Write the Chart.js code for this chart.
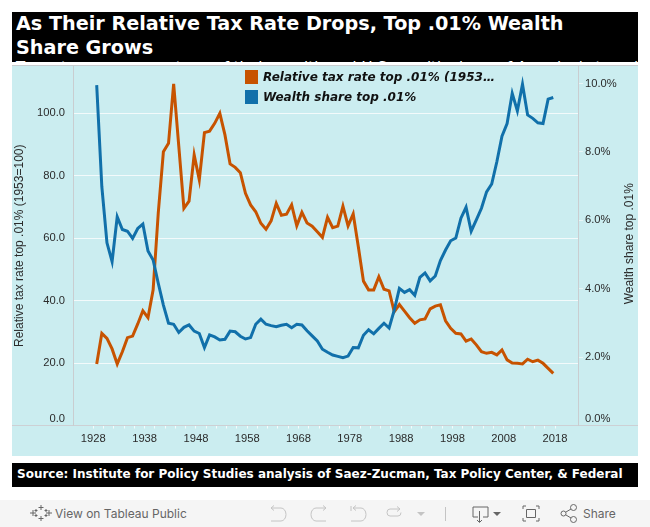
<!DOCTYPE html>
<html><head><meta charset="utf-8">
<script src="https://cdn.jsdelivr.net/npm/chart.js@4/dist/chart.umd.min.js"></script>
<style>
html,body{margin:0;padding:0;background:#fff;width:650px;height:527px;overflow:hidden}
.abs{position:absolute}
#head{left:12px;top:12px;width:626px;height:50px;background:#000;color:#fff;overflow:hidden;font-family:"DejaVu Sans";font-weight:bold}
#title{position:absolute;left:4px;top:0;width:600px;font-size:19.2px;line-height:24px}
#sub{position:absolute;left:4px;top:47px;white-space:nowrap;font-size:15px;font-weight:normal}
#panel{left:12px;top:65px;width:626px;height:391px;background:#cbedf0;border-top:1px solid #c9cdd0;box-sizing:border-box}
#axisline{left:12px;top:425px;width:626px;height:1px;background:#cdd0d4}
#chartbox{left:12px;top:66px;width:626px;height:390px}
.sw{position:absolute;width:13px;height:14px;left:245px}
.lg{position:absolute;left:263px;font:italic bold 12px "DejaVu Sans";color:#111;white-space:nowrap}
#source{left:12px;top:463px;width:626px;height:24px;background:#000;color:#fff;font:bold 12px/23px "DejaVu Sans";white-space:nowrap;overflow:hidden}
#source span{margin-left:5px}
#bar{left:0;top:500px;width:650px;height:27px;background:#f5f5f5}
#view{left:55px;top:506px;font:12px/15px Inter;color:#666}
#share{left:583px;top:506px;font:12px/15px Inter;color:#666}
svg.ic{position:absolute;left:0;top:0}
</style></head><body>
<div class="abs" id="head"><div id="title">As Their Relative Tax Rate Drops, Top .01% Wealth Share Grows</div><div id="sub">Tax rates as a percentage of their wealth and U.S. wealth share of America's top elite</div></div>
<div class="abs" id="panel"></div>
<div class="abs" id="axisline"></div>
<div class="abs" id="chartbox"><canvas id="c" width="626" height="390"></canvas></div>
<div class="sw" style="top:70px;background:#c75300"></div><div class="lg" style="top:70px">Relative tax rate top .01% (1953…</div>
<div class="sw" style="top:90px;background:#1170aa"></div><div class="lg" style="top:90px">Wealth share top .01%</div>
<div class="abs" id="source"><span>Source: Institute for Policy Studies analysis of Saez-Zucman, Tax Policy Center, &amp; Federal</span></div>
<div class="abs" id="bar"></div>
<div class="abs" id="view">View on Tableau Public</div>
<div class="abs" id="share">Share</div>
<svg class="ic" width="650" height="527" fill="none" stroke="#c4c4c4" stroke-width="1">
 <g stroke="#666"><path d="M41 505v5M38.500 507.500h5M41 516v5M38.500 518.500h5M33 510v6M30 513h6M49 510v6M46 513h6M36 509v3M34.500 510.500h3M46 509v3M44.500 510.500h3M36 514v3M34.500 515.500h3M46 514v3M44.500 515.500h3"/></g>
 <path d="M271 508h10a5 6.500 0 0 1 0 13h-10M274 505.500l-3 2.500 3 2.500"/>
 <path d="M326 508h-10a5 6.500 0 0 0 0 13h10M323 505.500l3 2.500-3 2.500"/>
 <path d="M351 506v5M353 508h8a5 6.500 0 0 1 0 13h-10M356 505.500l-3 2.500 3 2.500"/>
 <path d="M400 509h-10a3 3.500 0 0 0 0 7h8a3 3.500 0 0 0 3-3.500M397 506.500l3 2.500-3 2.500"/>
 <path d="M417 512h8l-4 4z" fill="#c4c4c4" stroke="none"/>
 <path d="M445.500 507v14"/>
 <g stroke="#666"><path d="M473 507h15v10h-5M478 517h-5v-10M479.500 511v11M477 520l2.500 2.500 2.500-2.500"/><path d="M493 512h8l-4 4z" fill="#666" stroke="none"/>
 <path d="M523 509v-3h3M536 506h3v3M539 518v3h-3M526 521h-3v-3M526.500 509.500h9v8h-9z"/>
 <circle cx="563.500" cy="513.500" r="2.500"/><circle cx="573.500" cy="507.500" r="3"/><circle cx="573.500" cy="519.500" r="3"/><path d="M566 512l5-3M566 515l5 3"/></g>
</svg>
<script>
// Year labels on the axis, and the two series (first point = 1928).
const firstYear = 1928;
const tickStep = 2;
const lastTickYear = 2018;
const taxRate = [19.7,29.5,27.9,24.5,19.7,23.6,28.1,28.6,32.5,36.7,34.5,43.4,68.0,87.6,90.3,109.3,89.4,69.5,71.8,86.6,78.6,93.7,94.2,96.7,99.9,93.0,83.7,82.6,80.9,74.3,70.6,68.4,64.7,62.8,65.5,71.1,67.3,67.6,70.6,63.9,68.2,64.8,63.8,62.0,60.2,66.6,63.3,63.8,70.2,63.9,67.7,57.2,46.2,43.4,43.4,47.6,43.6,43.1,36.4,38.7,36.6,34.5,32.7,33.8,34.1,37.3,38.2,38.6,33.5,31.1,29.5,29.3,27.0,27.7,25.8,23.6,23.1,23.4,22.6,24.2,21.0,20.0,19.9,19.7,21.2,20.4,20.9,19.9,18.3,16.7];
const wealthShare = [9.95,6.98,5.34,4.79,6.10,5.73,5.68,5.47,5.76,5.89,5.10,4.84,4.16,3.52,2.99,2.96,2.72,2.87,2.94,2.76,2.69,2.28,2.65,2.59,2.50,2.52,2.76,2.74,2.61,2.53,2.57,2.96,3.11,2.96,2.92,2.89,2.93,2.96,2.86,2.96,2.94,2.77,2.62,2.47,2.23,2.14,2.06,2.02,1.98,2.03,2.28,2.27,2.64,2.80,2.68,2.84,2.99,2.85,3.37,4.01,3.89,3.97,3.81,4.33,4.46,4.23,4.37,4.82,5.13,5.40,5.48,6.06,6.38,5.68,6.01,6.35,6.83,7.06,7.71,8.46,8.83,9.71,9.20,9.98,9.08,8.98,8.85,8.83,9.54,9.59];
const leftTicks = [0,20,40,60,80,100];
const rightTicks = [0,2,4,6,8,10];
const leftTitle = 'Relative tax rate top .01% (1953=100)';
const rightTitle = 'Wealth share top .01%';

const years = taxRate.map((_,i)=>firstYear+i);
const tickShift = 0.66;
const tickYears = []; for(let y=firstYear;y<=lastTickYear;y+=tickStep) tickYears.push(y);
const txt = '#2b2b2b';
const font = {family:'"Liberation Sans"',size:11.2};
const noPad = s => { s.paddingTop=0; s.paddingBottom=0; s.paddingLeft=0; s.paddingRight=0; };

const extras = {id:'extras',afterDraw(ch){
  const c=ch.ctx,a=ch.chartArea,yl=ch.scales.y,yr=ch.scales.y2;
  c.save();c.fillStyle=txt;c.font='11.2px "Liberation Sans"';
  c.textBaseline='middle';
  c.textAlign='right';c.fillText('0.0',a.left-8,yl.getPixelForValue(0)-7);
  c.textAlign='left';c.fillText('0.0%',a.right+7,yr.getPixelForValue(0)-7);
  c.translate(618,(a.top+a.bottom)/2-2);c.rotate(-Math.PI/2);
  c.textAlign='center';c.font='12px "Liberation Sans"';c.fillText(rightTitle,0,0);
  c.restore();
}};

new Chart(document.getElementById('c'),{
  type:'line',
  data:{datasets:[
    {label:'Wealth share top .01%',data:years.map((x,i)=>({x,y:wealthShare[i]})),yAxisID:'y2',borderColor:'#1170aa',borderWidth:3,pointRadius:0,tension:0,order:1,borderJoinStyle:'miter'},
    {label:'Relative tax rate top .01% (1953=100)',data:years.map((x,i)=>({x,y:taxRate[i]})),yAxisID:'y',borderColor:'#c75300',borderWidth:3,pointRadius:0,tension:0,order:2,borderJoinStyle:'miter'}
  ]},
  plugins:[extras],
  options:{
    responsive:false,animation:false,
    layout:{padding:0,autoPadding:false},
    plugins:{legend:{display:false},title:{display:false},tooltip:{enabled:false}},
    scales:{
      x:{type:'linear',min:1923.38,max:2021.82,
        afterBuildTicks(s){s.ticks=tickYears.map(v=>({value:v-tickShift}));},
        afterFit(s){s.height=30.5;noPad(s);},
        border:{display:false},
        grid:{drawOnChartArea:false,drawTicks:true,tickLength:3,tickColor:'#f4fbfc',tickWidth:1},
        ticks:{autoSkip:false,maxRotation:0,minRotation:0,color:txt,font,padding:4,
          callback(v){const y=Math.round(v+tickShift);return (y-firstYear)%10===0?String(y):'';}}
      },
      y:{position:'left',min:0,max:115.04,
        afterBuildTicks(s){s.ticks=leftTicks.map(value=>({value}));},
        afterFit(s){s.width=61;noPad(s);},
        title:{display:true,text:leftTitle,color:txt,font:{family:font.family,size:12},padding:{top:0,bottom:0}},
        border:{display:true,color:'#c9cdd0',width:1},
        grid:{color:c=>c.tick&&c.tick.value===0?'rgba(0,0,0,0)':'#f3fafb',lineWidth:1,drawTicks:false},
        ticks:{color:txt,font,padding:8,callback:v=>v===0?'':v.toFixed(1)}
      },
      y2:{position:'right',min:0,max:10.51,
        afterBuildTicks(s){s.ticks=rightTicks.map(value=>({value}));},
        afterFit(s){s.width=60;noPad(s);},
        border:{display:true,color:'#c9cdd0',width:1},
        grid:{drawOnChartArea:false,drawTicks:true,tickLength:5,tickColor:c=>c.tick&&c.tick.value===0?'rgba(0,0,0,0)':'#e9f5f6'},
        ticks:{color:txt,font,padding:2,callback:v=>v===0?'':v.toFixed(1)+'%'}
      }
    }
  }
});
</script>
</body></html>
